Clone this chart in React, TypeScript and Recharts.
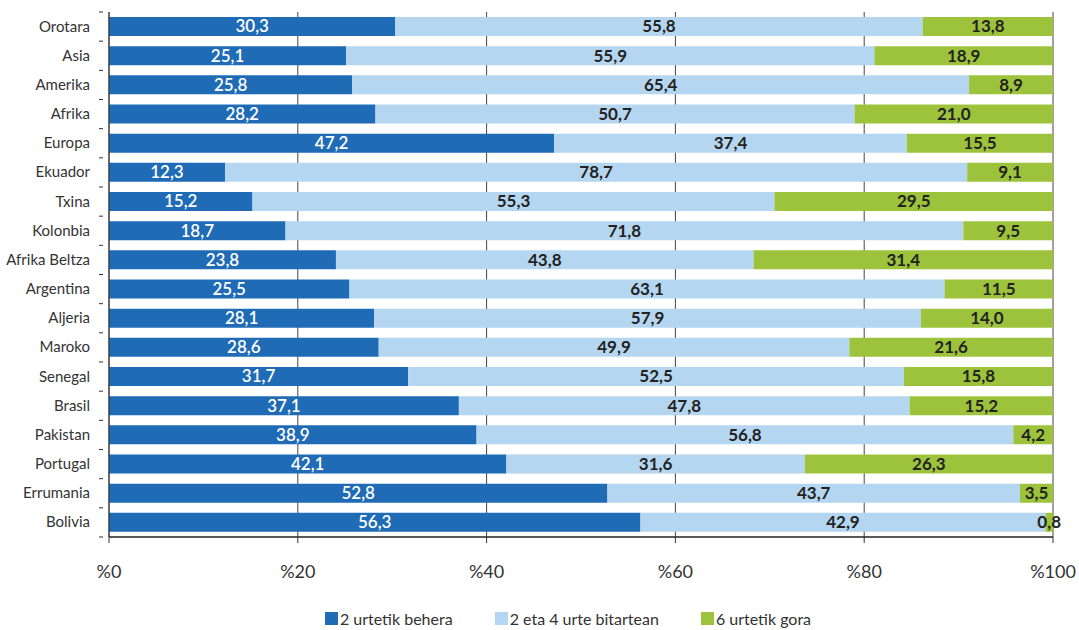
import React from "react";
import { BarChart, Bar, XAxis, YAxis, CartesianGrid, LabelList, Legend } from "recharts";

const categories = ["Orotara","Asia","Amerika","Afrika","Europa","Ekuador","Txina","Kolonbia","Afrika Beltza","Argentina","Aljeria","Maroko","Senegal","Brasil","Pakistan","Portugal","Errumania","Bolivia"];
const under2 = [30.3,25.1,25.8,28.2,47.2,12.3,15.2,18.7,23.8,25.5,28.1,28.6,31.7,37.1,38.9,42.1,52.8,56.3];
const between2and4 = [55.8,55.9,65.4,50.7,37.4,78.7,55.3,71.8,43.8,63.1,57.9,49.9,52.5,47.8,56.8,31.6,43.7,42.9];
const over6 = [13.8,18.9,8.9,21.0,15.5,9.1,29.5,9.5,31.4,11.5,14.0,21.6,15.8,15.2,4.2,26.3,3.5,0.8];
const seriesNames = ["2 urtetik behera","2 eta 4 urte bitartean","6 urtetik gora"];
const xTicks = [0, 0.2, 0.4, 0.6, 0.8, 1];

const data = categories.map((c, i) => ({ name: c, a: under2[i], b: between2and4[i], c: over6[i] }));

const FONT = "Lato, 'Open Sans', sans-serif";
const COLORS = ["#1F6BB6", "#B5D6F0", "#9DC33C"];
const fmt = (v: any) => Number(v).toFixed(1).replace(".", ",");

const W = 1079, H = 630;
const TOP = 12, BOTTOM = 537;
const STEP = (BOTTOM - TOP) / categories.length;

const CatTick = (props: any) => {
  const { x, y, payload, index } = props;
  return (
    <g>
      <line x1={x + 9} x2={x + 13} y1={y - STEP / 2} y2={y - STEP / 2} stroke="#333" />
      {index === categories.length - 1 && (
        <line x1={x + 9} x2={x + 13} y1={y + STEP / 2} y2={y + STEP / 2} stroke="#333" />
      )}
      <text x={x} y={y} dy={5} textAnchor="end" fontFamily={FONT} fontSize={15} fill="#333">
        {payload.value}
      </text>
    </g>
  );
};

const renderLegend = () => (
  <div style={{ display: "flex", justifyContent: "center", fontFamily: FONT, fontSize: 16, color: "#333", marginTop: 10, paddingLeft: 83 }}>
    {seriesNames.map((n, i) => (
      <div key={n} style={{ display: "flex", alignItems: "center", marginRight: i < 2 ? 42 : 0 }}>
        <span style={{ display: "inline-block", width: 13, height: 13, background: COLORS[i], marginRight: 2 }} />
        <span>{n}</span>
      </div>
    ))}
  </div>
);

export default function App() {
  return (
    <div style={{ position: "absolute", left: 0, top: 0, width: W, height: H, background: "#fff" }}>
      <BarChart
        width={W}
        height={H}
        data={data}
        layout="vertical"
        stackOffset="expand"
        barCategoryGap="17%"
        margin={{ top: TOP, right: 26, left: 0, bottom: 0 }}
      >
        <CartesianGrid horizontal={false} stroke="#444" strokeWidth={1} />
        <XAxis
          type="number"
          domain={[0, 1]}
          ticks={xTicks}
          tickFormatter={(v: number) => "%" + Math.round(v * 100)}
          tick={{ fontFamily: FONT, fontSize: 18, fill: "#333", dy: 20 }}
          tickLine={{ stroke: "#333" }}
          tickSize={6}
          axisLine={{ stroke: "#222", strokeWidth: 1.5 }}
          height={62}
          interval={0}
        />
        <YAxis
          type="category"
          dataKey="name"
          width={109}
          tick={<CatTick />}
          tickLine={false}
          tickMargin={13}
          axisLine={{ stroke: "#333" }}
          interval={0}
        />
        <Legend verticalAlign="bottom" content={renderLegend} height={31} />
        <Bar dataKey="a" name={seriesNames[0]} stackId="s" fill={COLORS[0]} isAnimationActive={false}>
          <LabelList dataKey="a" position="center" formatter={fmt} fill="#fff" fontFamily={FONT} fontSize={17} fontWeight={600} />
        </Bar>
        <Bar dataKey="b" name={seriesNames[1]} stackId="s" fill={COLORS[1]} isAnimationActive={false}>
          <LabelList dataKey="b" position="center" formatter={fmt} fill="#222" fontFamily={FONT} fontSize={17} fontWeight={700} />
        </Bar>
        <Bar dataKey="c" name={seriesNames[2]} stackId="s" fill={COLORS[2]} isAnimationActive={false}>
          <LabelList dataKey="c" position="center" formatter={fmt} fill="#222" fontFamily={FONT} fontSize={17} fontWeight={700} />
        </Bar>
      </BarChart>
    </div>
  );
}
